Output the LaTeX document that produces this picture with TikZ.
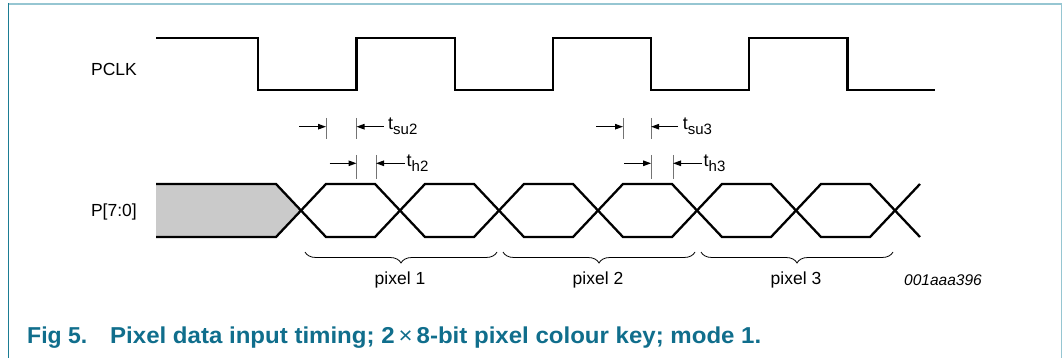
\documentclass[tikz,border=0pt]{standalone}
\usepackage{fontspec}
\setmainfont{Liberation Sans}
\usetikzlibrary{arrows.meta,decorations.pathreplacing}
\definecolor{capteal}{RGB}{16,110,140}
\definecolor{framedark}{RGB}{27,124,147}
\definecolor{framelight}{RGB}{150,198,210}
\definecolor{datagray}{RGB}{202,202,202}
\newcommand{\tlabel}[1]{t\raisebox{-5pt}{\fontsize{15}{15}\selectfont #1}}

\begin{document}
\begin{tikzpicture}[x=1pt, y=-1pt,
    sig/.style={line width=2.3pt},
    tickline/.style={black!55, line width=0.9pt},
    dimarrow/.style={-{Triangle[length=8pt,width=5.5pt]}, line width=1.1pt},
    lbl/.style={font=\fontsize{17.5}{20}\selectfont, inner sep=0pt},
    tlbl/.style={font=\fontsize{18}{20}\selectfont, inner sep=0pt, anchor=base west},
    captxt/.style={anchor=base west, inner sep=0pt, text=capteal, font=\fontsize{23}{26}\selectfont\bfseries},
    pixbrace/.style={decorate, decoration={brace, amplitude=11pt, mirror}, line width=0.8pt}]

    \useasboundingbox (0,0) rectangle (1063,358);

    % frame
    \draw[framelight, line width=1.6pt] (8,3.8) -- (1061.5,3.8) -- (1061.5,358);
    \draw[framedark, line width=1.2pt] (8.3,3) -- (8.3,358);

    % signal names
    \node[lbl, anchor=east] (pclk) at (137,69) {PCLK};
    \node[lbl, anchor=east] (pbus) at (137,212) {P[7:0]};

    % clock
    \draw[sig] (156,38.3) \foreach \i in {0,1,2} {
        -- ({258.3+196.4*\i},38.3) -- ({258.3+196.4*\i},90) -- ({356.5+196.4*\i},90) -- ({356.5+196.4*\i},38.3)
    } -- (847.5,38.3) -- (847.5,90) -- (935,90);

    % data bus
    \fill[datagray] (156,184) -- (276,184) -- (301,210.5) -- (276,237) -- (156,237) -- cycle;
    \draw[sig] (156,184) \foreach \k in {0,2,4} {
        -- ({301+99*\k-25},184) -- ({301+99*\k+25},237) -- ({301+99*(\k+1)-25},237) -- ({301+99*(\k+1)+25},184)
    } -- ({301+99*6-25},184) -- ({301+99*6+25},237);
    \draw[sig] (156,237) \foreach \k in {0,2,4} {
        -- ({301+99*\k-25},237) -- ({301+99*\k+25},184) -- ({301+99*(\k+1)-25},184) -- ({301+99*(\k+1)+25},237)
    } -- ({301+99*6-25},237) -- ({301+99*6+25},184);

    % setup and hold
    \foreach \n/\e/\s/\h in {2/356.5/326/376, 3/651.1/623/673} {
        \coordinate (su\n a) at (\s,118);
        \coordinate (su\n b) at (\e,118);
        \coordinate (h\n a) at (\e,155);
        \coordinate (h\n b) at (\h,155);
        \draw[tickline] (su\n a) -- ++(0,21);
        \draw[tickline] (su\n b) -- ++(0,21);
        \draw[tickline] (h\n a) -- ++(0,24.5);
        \draw[tickline] (h\n b) -- ++(0,24.5);
        \draw[dimarrow] ([shift={(-27,8.7)}]su\n a) -- ([shift={(0,8.7)}]su\n a);
        \draw[dimarrow] ([shift={(27,8.7)}]su\n b) -- ([shift={(0,8.7)}]su\n b);
        \draw[dimarrow] ([shift={(-27,8.3)}]h\n a) -- ([shift={(0,8.3)}]h\n a);
        \draw[dimarrow] ([shift={(29,8.3)}]h\n b) -- ([shift={(0,8.3)}]h\n b);
        \node[tlbl] (tsu\n) at ([shift={(31.5,12)}]su\n b) {\tlabel{su\n}};
        \node[tlbl] (th\n) at ([shift={(30.5,12)}]h\n b) {\tlabel{h\n}};
    }

    % pixels
    \foreach \j in {1,2,3} {
        \draw[pixbrace] ({301+198*(\j-1)+4},252) -- ({301+198*\j-2},252);
        \node[lbl] (pix\j) at ({301+198*(\j-1)+99},279.5) {pixel \j};
    }
    \node[lbl, font=\fontsize{15.5}{18}\selectfont\itshape] (code) at (943,280) {001aaa396};

    % caption
    \node[captxt] (fig) at (27,343) {Fig 5.};
    \node[captxt] (title) at (110,343)
        {\scalebox{1.045}[1]{Pixel data input timing; 2\,{\mdseries ×}\,8-bit pixel colour key; mode 1.}};
\end{tikzpicture}
\end{document}
